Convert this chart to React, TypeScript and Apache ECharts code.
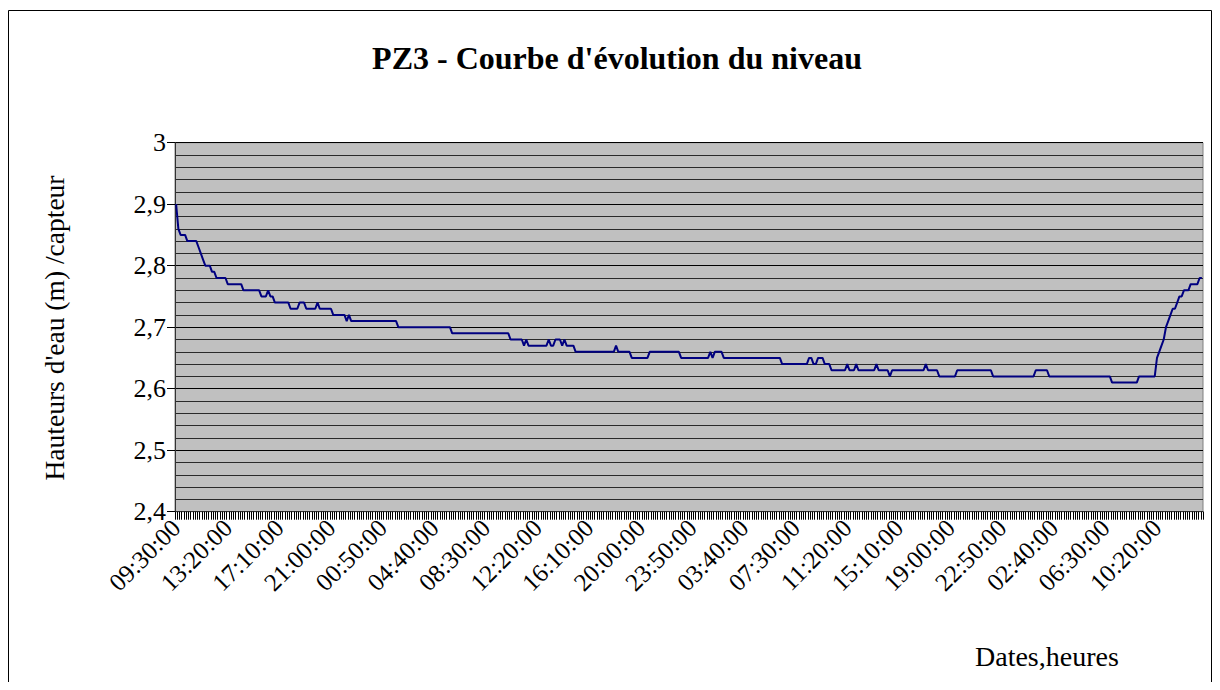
import React, { useEffect, useRef } from "react";
import * as echarts from "echarts";

const levelRuns: [number, number][] = [
  [2.9, 1], [2.86, 1], [2.85, 3], [2.84, 5], [2.83, 1], [2.82, 1], [2.81, 1], [2.8, 3], [2.79, 2], [2.78, 5],
  [2.77, 7], [2.76, 8], [2.75, 3], [2.76, 1], [2.75, 2], [2.74, 7], [2.73, 4], [2.74, 3], [2.73, 5], [2.74, 1],
  [2.73, 6], [2.72, 6], [2.71, 1], [2.72, 1], [2.71, 21], [2.7, 24], [2.69, 26], [2.68, 6], [2.67, 1], [2.68, 1],
  [2.67, 9], [2.68, 1], [2.67, 2], [2.68, 3], [2.67, 1], [2.68, 1], [2.67, 4], [2.66, 18], [2.67, 1], [2.66, 6],
  [2.65, 8], [2.66, 14], [2.65, 13], [2.66, 1], [2.65, 1], [2.66, 4], [2.65, 26], [2.64, 12], [2.65, 2], [2.64, 2],
  [2.65, 3], [2.64, 3], [2.63, 7], [2.64, 1], [2.63, 3], [2.64, 1], [2.63, 8], [2.64, 1], [2.63, 5], [2.62, 1],
  [2.63, 15], [2.64, 1], [2.63, 5], [2.62, 8], [2.63, 16], [2.62, 19], [2.63, 6], [2.62, 28], [2.61, 12], [2.62, 8],
  [2.65, 1], [2.66, 1], [2.67, 1], [2.68, 1], [2.7, 1], [2.71, 1], [2.72, 1], [2.73, 2], [2.74, 1], [2.75, 2],
  [2.76, 3], [2.77, 4], [2.78, 2],
];

// Time base: first reading 09:30:00, one reading every 10 minutes
const START_MINUTES = 9 * 60 + 30;
const STEP_MINUTES = 10;
const LABEL_EVERY = 23; // 09:30:00, 13:20:00, 17:10:00 ...

const TITLE = "PZ3 - Courbe d'évolution du niveau";
const Y_TITLE = "Hauteurs d'eau (m) /capteur";
const X_TITLE = "Dates,heures";

const values: number[] = [];
levelRuns.forEach(([v, n]) => {
  for (let k = 0; k < n; k++) values.push(v);
});

const pad = (n: number) => (n < 10 ? "0" + n : "" + n);
const categories: string[] = values.map((_, i) => {
  const m = (START_MINUTES + i * STEP_MINUTES) % (24 * 60);
  return pad(Math.floor(m / 60)) + ":" + pad(m % 60) + ":00";
});

const FONT = "Liberation Serif";

export default function App() {
  const ref = useRef<HTMLDivElement>(null);
  useEffect(() => {
    if (!ref.current) return;
    const chart = echarts.init(ref.current, undefined, { renderer: "svg" });
    chart.setOption({
      animation: false,
      backgroundColor: "#ffffff",
      textStyle: { fontFamily: FONT },
      grid: {
        left: 167,
        top: 134.7,
        right: 9,
        bottom: 170.3,
        show: true,
        backgroundColor: "#c0c0c0",
        borderColor: "#808080",
        borderWidth: 1,
      },
      xAxis: {
        type: "category",
        data: categories,
        boundaryGap: true,
        axisLine: { show: true, lineStyle: { color: "#333", width: 1 } },
        axisTick: { show: true, interval: 0, length: 8, lineStyle: { color: "#000", width: 1 } },
        axisLabel: {
          interval: LABEL_EVERY - 1,
          rotate: 45,
          margin: 12,
          fontFamily: FONT,
          fontSize: 25,
          color: "#000",
        },
        splitLine: { show: false },
      },
      yAxis: {
        type: "value",
        min: 2.4,
        max: 3,
        interval: 0.1,
        axisLine: { show: true, lineStyle: { color: "#333", width: 1 } },
        axisTick: { show: true, length: 8, lineStyle: { color: "#000" } },
        minorTick: { show: false, splitNumber: 5 },
        axisLabel: {
          margin: 9,
          fontFamily: FONT,
          fontSize: 26,
          color: "#000",
          formatter: (v: number) => String(Math.round(v * 10) / 10).replace(".", ","),
        },
        splitLine: { show: true, lineStyle: { color: "#000", width: 1 } },
        minorSplitLine: { show: true, lineStyle: { color: "#2a2a2a", width: 1 } },
      },
      series: [
        {
          type: "line",
          data: values,
          showSymbol: false,
          symbol: "none",
          lineStyle: { color: "#000080", width: 2 },
        },
      ],
      graphic: [
        {
          type: "rect",
          shape: { x: 0.5, y: 2.5, width: 1203, height: 720 },
          style: { fill: "none", stroke: "#000", lineWidth: 1 },
          silent: true,
        },
        {
          type: "text",
          x: 609,
          y: 50,
          style: {
            text: TITLE,
            fontFamily: FONT,
            fontWeight: "bold",
            fontSize: 32,
            fill: "#000",
            align: "center",
            verticalAlign: "middle",
          },
        },
        {
          type: "text",
          x: 46,
          y: 320,
          rotation: Math.PI / 2,
          style: {
            text: Y_TITLE,
            fontFamily: FONT,
            fontSize: 27.5,
            fill: "#000",
            align: "center",
            verticalAlign: "middle",
          },
        },
        {
          type: "text",
          x: 967,
          y: 648,
          style: {
            text: X_TITLE,
            fontFamily: FONT,
            fontSize: 28,
            fill: "#000",
            align: "left",
            verticalAlign: "middle",
          },
        },
      ],
    });
    return () => chart.dispose();
  }, []);
  return <div ref={ref} style={{ width: 1204, height: 674 }} />;
}
